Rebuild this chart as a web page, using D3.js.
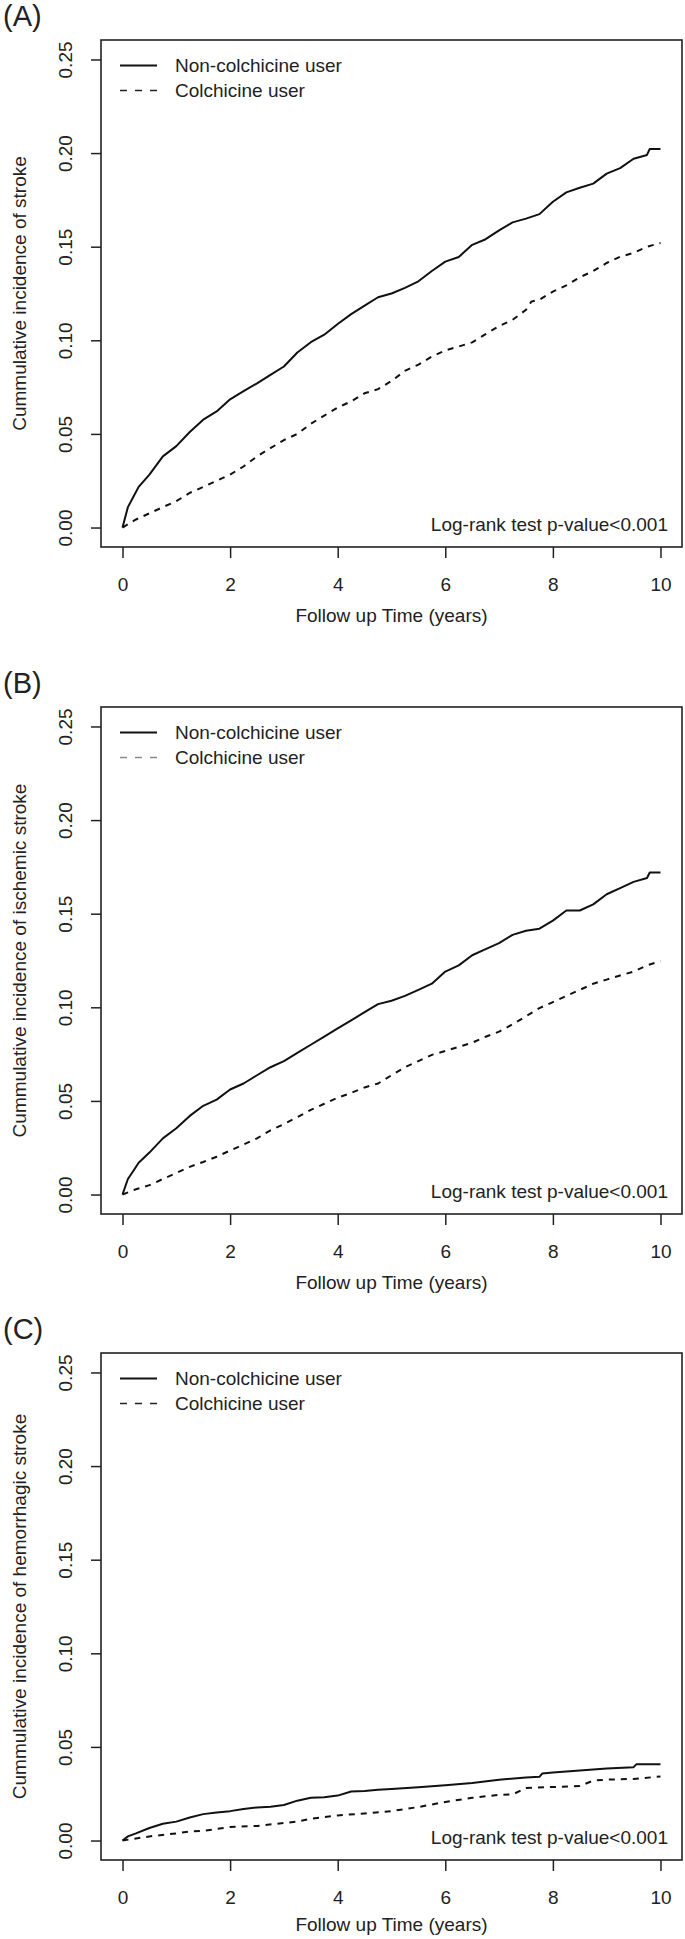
<!DOCTYPE html>
<html>
<head>
<meta charset="utf-8">
<script src="https://cdn.jsdelivr.net/npm/d3@7"></script>
<style>
  html, body { margin: 0; padding: 0; background: #fff; }
  svg { display: block; }
  text { font-family: "Liberation Sans", Arial, Helvetica, sans-serif; fill: #222; }
</style>
</head>
<body>
<svg id="chart" width="685" height="1939"></svg>
<script>
// ---------- DATA ----------
const panelLabels = ["(A)", "(B)", "(C)"];
const yTitles = [
  "Cummulative incidence of stroke",
  "Cummulative incidence of ischemic stroke",
  "Cummulative incidence of hemorrhagic stroke"
];
const seriesNames = ["Non-colchicine user", "Colchicine user"];
const xTicks = [0, 2, 4, 6, 8, 10];
const yTicks = [0.00, 0.05, 0.10, 0.15, 0.20, 0.25];
const xTitle = "Follow up Time (years)";
const pText = "Log-rank test p-value<0.001";

// Panel A — stroke
const timeA_non = [0,0.1,0.2,0.3,0.5,0.75,1,1.25,1.5,1.75,2,2.25,2.5,2.75,3,3.25,3.5,3.75,4,4.25,4.5,4.75,5,5.25,5.5,5.75,6,6.25,6.5,6.75,7,7.25,7.5,7.75,8,8.25,8.5,8.75,9,9.25,9.5,9.75,9.8,10];
const cumA_non  = [0,0.0109,0.0163,0.0217,0.0283,0.038,0.0435,0.051,0.0576,0.062,0.0685,0.0728,0.077,0.0815,0.086,0.0935,0.099,0.103,0.1087,0.114,0.1185,0.123,0.125,0.128,0.1315,0.137,0.142,0.1445,0.151,0.154,0.1587,0.163,0.165,0.1674,0.174,0.179,0.1815,0.1837,0.189,0.192,0.197,0.199,0.2022,0.2022];
const timeA_col = [0,0.25,0.5,0.75,1,1.25,1.5,1.75,2,2.25,2.5,2.75,3,3.25,3.5,3.75,4,4.25,4.5,4.75,5,5.25,5.5,5.75,6,6.25,6.5,6.75,7,7.25,7.5,7.6,7.75,8,8.25,8.5,8.75,9,9.25,9.5,9.75,10];
const cumA_col  = [0,0.0043,0.0076,0.0109,0.0141,0.0185,0.0217,0.025,0.0283,0.0326,0.038,0.0424,0.0467,0.05,0.0554,0.0598,0.0641,0.0674,0.0717,0.0739,0.0783,0.0837,0.087,0.0913,0.0946,0.0967,0.0989,0.1033,0.1076,0.1109,0.1163,0.1207,0.1217,0.126,0.1293,0.1337,0.137,0.1413,0.1446,0.1467,0.15,0.152];

// Panel B — ischemic stroke
const timeB_non = [0,0.1,0.2,0.3,0.5,0.75,1,1.25,1.5,1.75,2,2.25,2.5,2.75,3,3.25,3.5,3.75,4,4.25,4.5,4.75,5,5.25,5.5,5.75,6,6.25,6.5,6.75,7,7.25,7.5,7.75,8,8.25,8.5,8.75,9,9.25,9.5,9.75,9.8,10];
const cumB_non  = [0,0.0083,0.0126,0.017,0.0224,0.03,0.0354,0.042,0.0474,0.0507,0.0561,0.0593,0.0637,0.068,0.0713,0.0757,0.08,0.0843,0.0887,0.093,0.0974,0.1017,0.1035,0.1061,0.1093,0.1126,0.1191,0.1224,0.1278,0.1311,0.1343,0.1387,0.1409,0.142,0.1463,0.1517,0.1517,0.155,0.1604,0.1637,0.167,0.1691,0.172,0.172];
const timeB_col = [0,0.25,0.5,0.75,1,1.25,1.5,1.75,2,2.25,2.5,2.75,3,3.25,3.5,3.75,4,4.25,4.5,4.75,5,5.25,5.5,5.75,6,6.25,6.5,6.75,7,7.25,7.5,7.75,8,8.25,8.5,8.75,9,9.25,9.5,9.75,10];
const cumB_col  = [0,0.0028,0.005,0.0083,0.0115,0.0148,0.0174,0.0202,0.0235,0.0267,0.03,0.0343,0.0376,0.0413,0.0452,0.0485,0.0517,0.0543,0.0572,0.0593,0.0637,0.068,0.0713,0.0746,0.0767,0.0789,0.0811,0.0843,0.087,0.0909,0.0952,0.0996,0.1028,0.1061,0.1093,0.1126,0.1148,0.117,0.1191,0.1224,0.1246];

// Panel C — hemorrhagic stroke
const timeC_non = [0,0.1,0.25,0.5,0.75,1,1.25,1.5,1.75,2,2.25,2.5,2.75,3,3.25,3.5,3.75,4,4.25,4.5,4.75,5,5.5,6,6.5,7,7.5,7.75,7.8,8,8.5,9,9.5,9.55,10];
const cumC_non  = [0,0.0022,0.0038,0.0067,0.009,0.0101,0.0123,0.0141,0.015,0.0157,0.0168,0.0177,0.0181,0.019,0.0213,0.0228,0.0231,0.024,0.0262,0.0264,0.0271,0.0275,0.0284,0.0295,0.0307,0.0325,0.0336,0.034,0.0358,0.0363,0.0374,0.0385,0.0392,0.0407,0.0407];
const timeC_col = [0,0.25,0.5,1,1.25,1.5,2,2.5,3,3.25,3.5,4,4.5,5,5.5,6,6.5,7,7.25,7.5,8,8.5,8.75,9,9.5,10];
const cumC_col  = [0,0.0011,0.0022,0.0038,0.0049,0.0051,0.0072,0.0078,0.0094,0.0101,0.0116,0.0134,0.0145,0.0157,0.0179,0.0206,0.0228,0.0244,0.0246,0.028,0.0286,0.0291,0.032,0.0325,0.0329,0.0342];

const panels = [
  { label: panelLabels[0], yTitle: yTitles[0], non: [timeA_non, cumA_non], col: [timeA_col, cumA_col], top: 40,   titleOff: 75, legendDashColor: "#222" },
  { label: panelLabels[1], yTitle: yTitles[1], non: [timeB_non, cumB_non], col: [timeB_col, cumB_col], top: 707,  titleOff: 75, legendDashColor: "#8a8a8a" },
  { label: panelLabels[2], yTitle: yTitles[2], non: [timeC_non, cumC_non], col: [timeC_col, cumC_col], top: 1353, titleOff: 71, legendDashColor: "#222" }
];

// ---------- LAYOUT ----------
const frameLeft = 101, frameRight = 682, frameH = 507;
const svg = d3.select("#chart");
const FS = 19;

panels.forEach(p => {
  const g = svg.append("g");
  const top = p.top, bottom = top + frameH;
  const x = d3.scaleLinear().domain([-0.4, 10.4]).range([frameLeft, frameRight]);
  const y = d3.scaleLinear().domain([-0.0104, 0.2604]).range([bottom, top]);

  // panel label
  g.append("text").attr("x", 3).attr("y", top - 14)
    .attr("font-size", 29).text(p.label);

  // curves
  const line = d3.line().x(d => x(d[0])).y(d => y(d[1])).curve(d3.curveLinear);
  const nonData = p.non[0].map((t, i) => [t, p.non[1][i]]);
  const colData = p.col[0].map((t, i) => [t, p.col[1][i]]);
  g.append("path").datum(nonData).attr("d", line)
    .attr("fill", "none").attr("stroke", "#111").attr("stroke-width", 2)
    .attr("stroke-linejoin", "round");
  g.append("path").datum(colData).attr("d", line)
    .attr("fill", "none").attr("stroke", "#111").attr("stroke-width", 2)
    .attr("stroke-dasharray", "6,6");

  // frame
  g.append("rect").attr("x", frameLeft).attr("y", top)
    .attr("width", frameRight - frameLeft).attr("height", frameH)
    .attr("fill", "none").attr("stroke", "#222").attr("stroke-width", 1.6);

  // x axis
  const xAxis = d3.axisBottom(x).tickValues(xTicks).tickSize(11).tickFormat(d3.format("d"));
  const xg = g.append("g").attr("transform", `translate(0,${bottom})`).call(xAxis);
  xg.select(".domain").remove();
  xg.selectAll(".tick line").attr("stroke", "#222").attr("stroke-width", 1.5);
  xg.selectAll(".tick text").attr("y", 37).attr("dy", "0.36em")
    .attr("font-size", FS).attr("font-family", "Liberation Sans, Arial, sans-serif").attr("fill", "#222");

  // y axis
  const yAxis = d3.axisLeft(y).tickValues(yTicks).tickSize(10).tickFormat(d3.format(".2f"));
  const yg = g.append("g").attr("transform", `translate(${frameLeft},0)`).call(yAxis);
  yg.select(".domain").remove();
  yg.selectAll(".tick line").attr("stroke", "#222").attr("stroke-width", 1.5);
  yg.selectAll(".tick text")
    .attr("x", null).attr("dy", null)
    .attr("transform", "translate(-29,0) rotate(-90)")
    .attr("text-anchor", "middle")
    .attr("font-size", FS).attr("font-family", "Liberation Sans, Arial, sans-serif").attr("fill", "#222");

  // axis titles
  g.append("text").attr("x", (frameLeft + frameRight) / 2).attr("y", bottom + p.titleOff)
    .attr("text-anchor", "middle").attr("font-size", FS).text(xTitle);
  g.append("text")
    .attr("transform", `translate(26,${(top + bottom) / 2}) rotate(-90)`)
    .attr("text-anchor", "middle").attr("font-size", FS).text(p.yTitle);

  // legend
  const ly1 = y(0.25) + 6, ly2 = ly1 + 25;
  g.append("line").attr("x1", 120).attr("x2", 157).attr("y1", ly1).attr("y2", ly1)
    .attr("stroke", "#111").attr("stroke-width", 2);
  g.append("line").attr("x1", 120).attr("x2", 157).attr("y1", ly2).attr("y2", ly2)
    .attr("stroke", p.legendDashColor).attr("stroke-width", 1.6).attr("stroke-dasharray", "7,8");
  g.append("text").attr("x", 175).attr("y", ly1 + 7).attr("font-size", FS).text(seriesNames[0]);
  g.append("text").attr("x", 175).attr("y", ly2 + 7).attr("font-size", FS).text(seriesNames[1]);

  // p-value
  g.append("text").attr("x", 668).attr("y", y(0) + 3)
    .attr("text-anchor", "end").attr("font-size", FS).text(pText);
});
</script>
</body>
</html>
